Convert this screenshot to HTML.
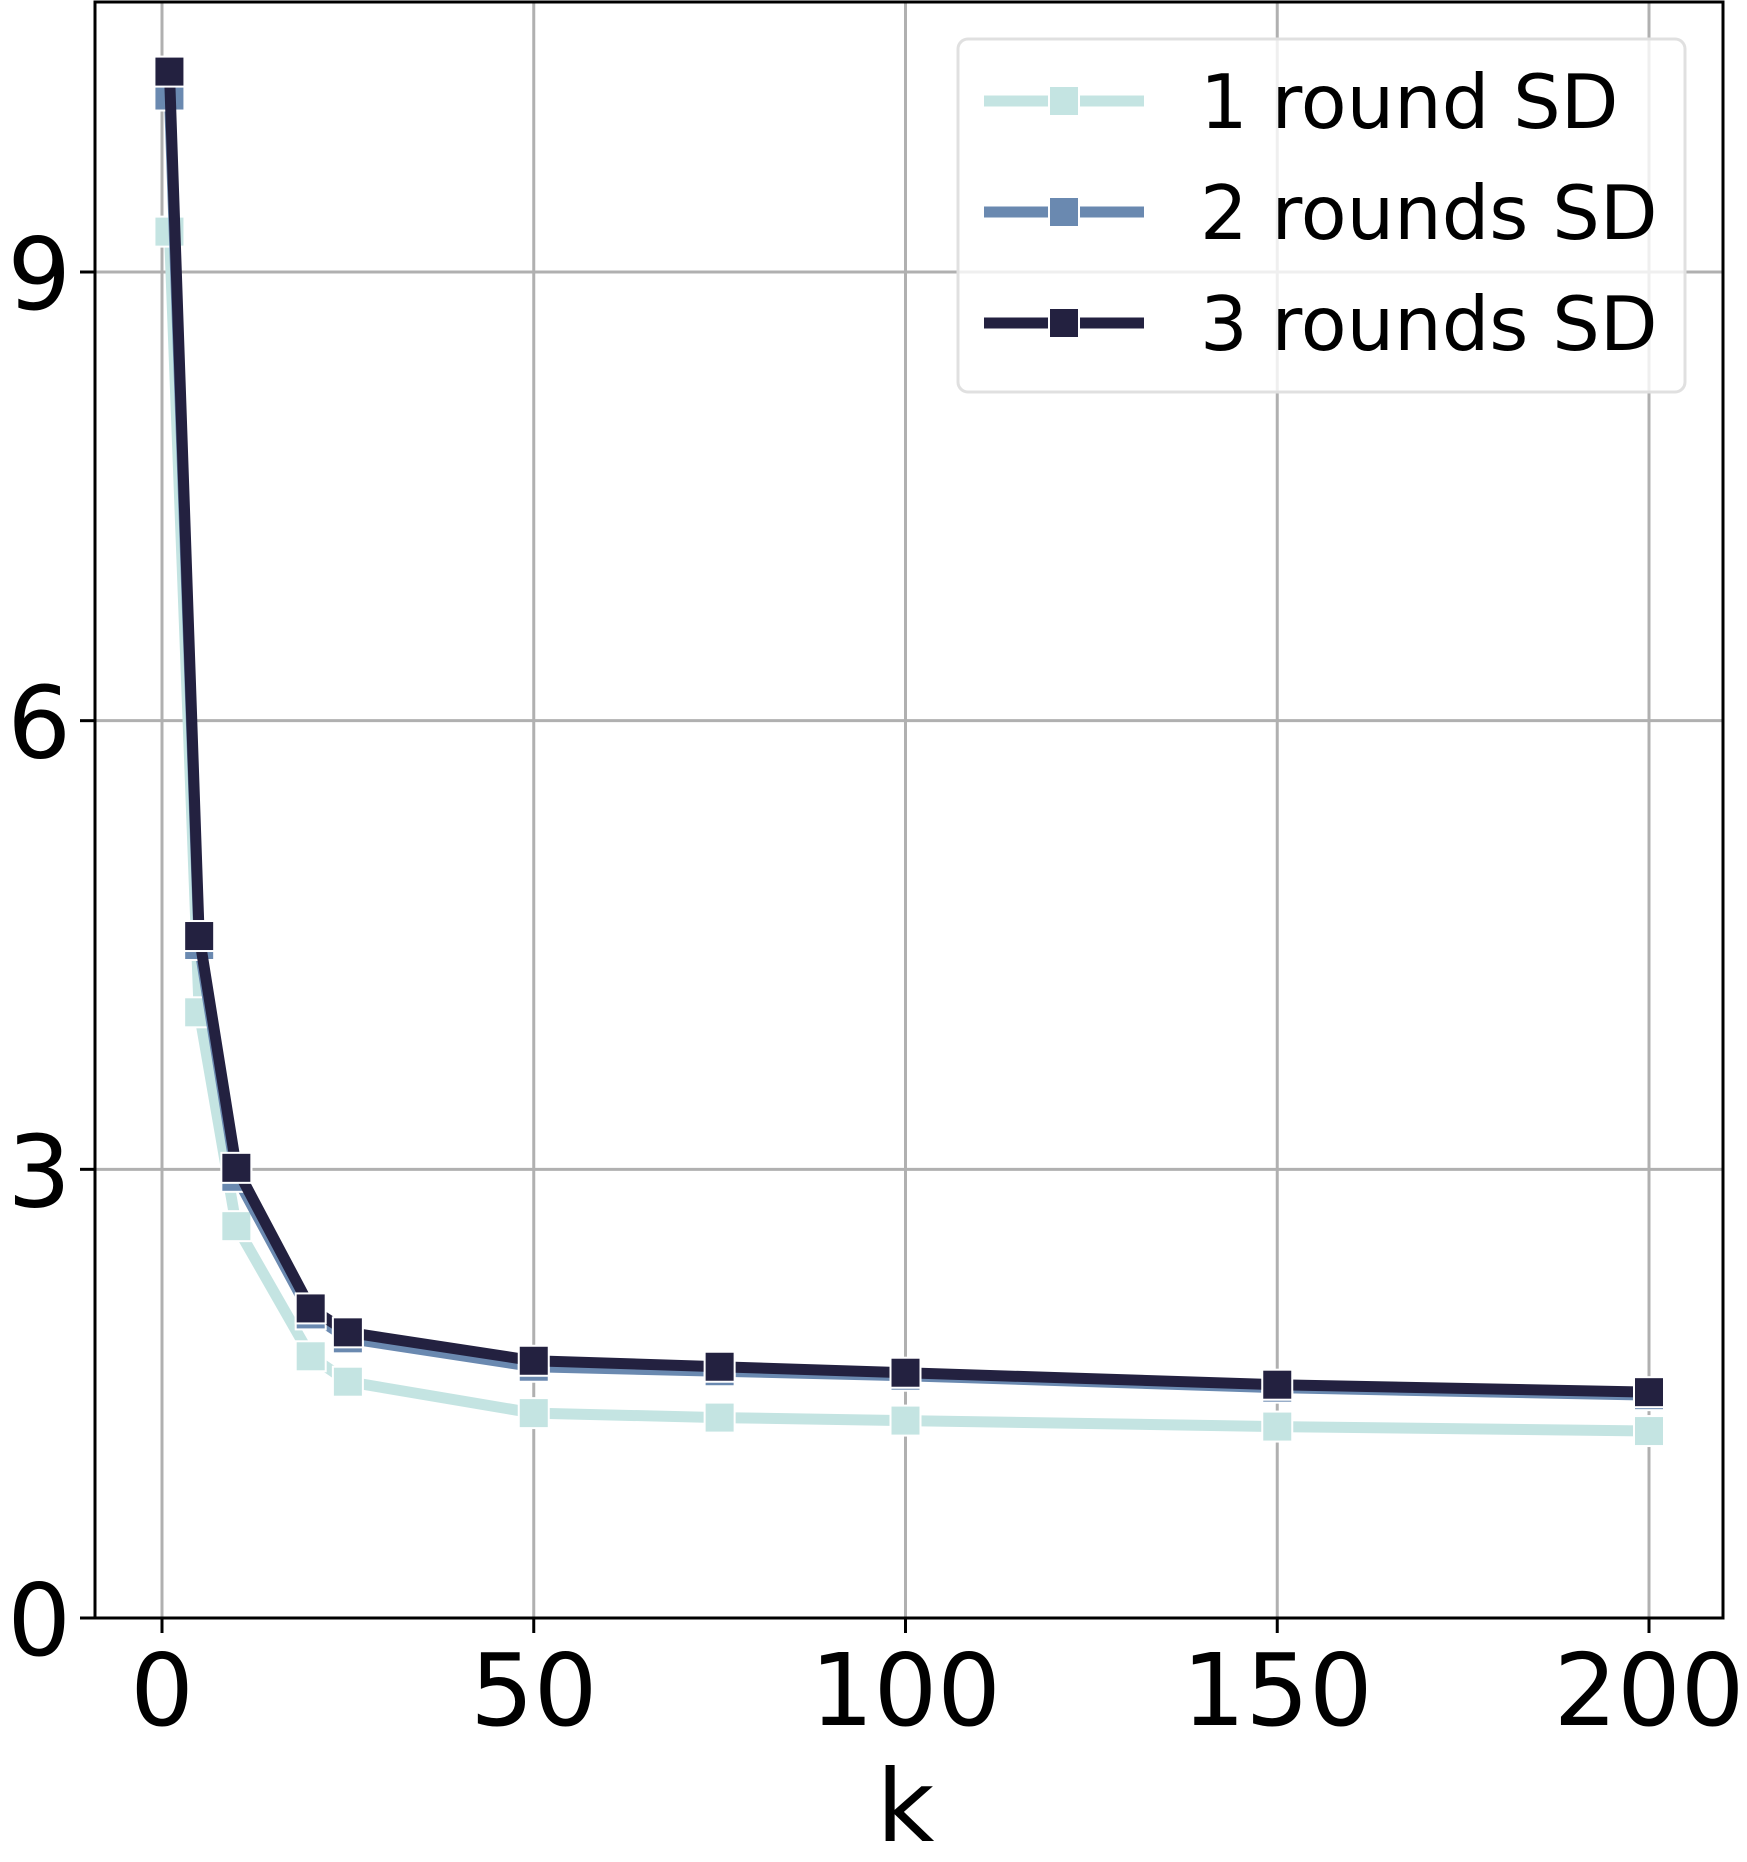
<!DOCTYPE html>
<html><head><meta charset="utf-8"><style>html,body{margin:0;padding:0;background:#fff}svg{display:block}</style></head>
<body>
<svg id="chart" width="1747" height="1862" xmlns="http://www.w3.org/2000/svg" font-family="DejaVu Sans, Liberation Sans, sans-serif">
</svg>
<script>
const kValues = [1,5,10,20,25,50,75,100,150,200];
const seriesNames = ["1 round SD","2 rounds SD","3 rounds SD"];
const round1 = [9.27,4.05,2.62,1.75,1.58,1.37,1.34,1.32,1.28,1.25];
const round2 = [10.18,4.5,2.95,2.03,1.87,1.68,1.65,1.62,1.54,1.49];
const round3 = [10.34,4.56,3.01,2.07,1.91,1.72,1.68,1.64,1.56,1.51];
const xTicks = [0,50,100,150,200];
const yTicks = [0,3,6,9];
const colors = ["#c4e4e2","#6a89b0","#232140"];

const NS="http://www.w3.org/2000/svg";
const svg=document.getElementById('chart');
const L=95,R=1723,T=2,B=1618;
const xs=v=>162+(v/200)*(1649-162);
const ys=v=>1618-(v/9)*(1618-272);
function mk(tag,attrs,parent){const e=document.createElementNS(NS,tag);for(const k in attrs)e.setAttribute(k,attrs[k]);(parent||svg).appendChild(e);return e;}

xTicks.forEach(t=>{
  const g=mk('line',{x1:xs(t),x2:xs(t),y1:T,y2:B,stroke:'#b0b0b0','stroke-width':3});
  
  
  const tk=mk('line',{x1:xs(t),x2:xs(t),y1:B,y2:B+15,stroke:'#000','stroke-width':3});
  
  
  const tx=mk('text',{x:xs(t),y:1725,'font-size':100,'text-anchor':'middle',fill:'#000'});
  tx.textContent=t;
  
  
});
yTicks.forEach(t=>{
  if(t>0){
  const g=mk('line',{x1:L,x2:R,y1:ys(t),y2:ys(t),stroke:'#b0b0b0','stroke-width':3});
  
  }
  const tk=mk('line',{x1:L-15,x2:L,y1:ys(t),y2:ys(t),stroke:'#000','stroke-width':3});
  
  
  const tx=mk('text',{x:71,y:ys(t)+37,'font-size':100,'text-anchor':'end',fill:'#000'});
  tx.textContent=t;
  
  
});
const frame=mk('rect',{x:L,y:T,width:R-L,height:B-T,fill:'none',stroke:'#000','stroke-width':3});



const xl=mk('text',{x:(xs(0)+xs(200))/2,y:1841,'font-size':100,'text-anchor':'middle',fill:'#000'});
xl.textContent='k';



[round1,round2,round3].forEach((vals,i)=>{
  const g=mk('g',{});
  
  
  const pl=mk('polyline',{points:vals.map((v,j)=>xs(kValues[j])+','+ys(v)).join(' '),fill:'none',stroke:colors[i],'stroke-width':11,'stroke-linejoin':'round'},g);
  
  
  vals.forEach((v,j)=>{
    const m=mk('rect',{x:xs(kValues[j])-15,y:ys(v)-15,width:30,height:30,fill:colors[i],stroke:'#fff','stroke-width':2},g);
    
    
  });
});

const lg=mk('g',{});


const lb=mk('rect',{x:958,y:39,width:727,height:353,rx:10,fill:'#fff','fill-opacity':0.8,stroke:'#e0e0e0','stroke-width':3},lg);


seriesNames.forEach((n,i)=>{
  const y=101+i*111;
  const e=mk('g',{},lg);
  
  
  mk('line',{x1:984,x2:1144,y1:y,y2:y,stroke:colors[i],'stroke-width':11},e);
  mk('rect',{x:1049,y:y-15,width:30,height:30,fill:colors[i],stroke:'#fff','stroke-width':2},e);
  const t=mk('text',{x:1200,y:y+27,'font-size':75,fill:'#000'},e);
  t.textContent=n;
});
</script>
</body></html>
